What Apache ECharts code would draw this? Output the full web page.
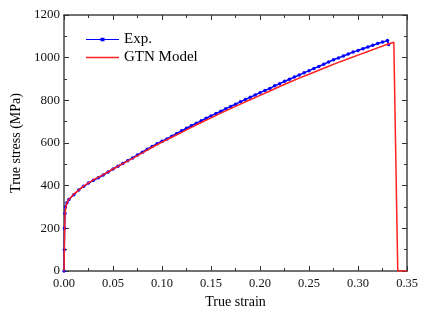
<!DOCTYPE html>
<html>
<head>
<meta charset="utf-8">
<script src="https://cdn.jsdelivr.net/npm/echarts@6/dist/echarts.min.js"></script>
<style>
html, body { margin: 0; padding: 0; background: #fff; }
#chart { width: 421px; height: 314px; }
</style>
</head>
<body>
<div id="chart"></div>
<script>
var chart = echarts.init(document.getElementById('chart'));

// 实验曲线 (strain, stress)
var expStrain = [0, 0.0003, 0.0006, 0.001, 0.0015, 0.003, 0.005, 0.010, 0.015, 0.020, 0.025, 0.030, 0.035, 0.040, 0.045,
    0.050, 0.055, 0.060, 0.065, 0.070, 0.075, 0.080, 0.085, 0.090, 0.095, 0.100, 0.105, 0.110, 0.115, 0.120,
    0.125, 0.130, 0.135, 0.140, 0.145, 0.150, 0.155, 0.160, 0.165, 0.170, 0.175, 0.180, 0.185, 0.190, 0.195,
    0.200, 0.205, 0.210, 0.215, 0.220, 0.225, 0.230, 0.235, 0.240, 0.245, 0.250, 0.255, 0.260, 0.265, 0.270,
    0.275, 0.280, 0.285, 0.290, 0.295, 0.300, 0.305, 0.310, 0.315, 0.320, 0.325, 0.330, 0.3312];
var expStress = [0, 100, 200, 270, 300, 320, 335, 358, 380, 397, 412, 425, 437, 450, 464,
    478, 491, 504, 517, 530, 544, 557, 571, 584, 597, 608, 619, 632, 645, 657,
    669, 681, 693, 704, 716, 727, 738, 749, 760, 771, 782, 793, 804, 814, 825,
    836, 846, 856, 868, 878, 889, 899, 909, 919, 929, 939, 949, 959, 969, 980,
    990, 999, 1008, 1017, 1026, 1034, 1042, 1050, 1058, 1066, 1073, 1080, 1062];

// GTN 模型曲线
var gtnStrain = [0, 0.0005, 0.001, 0.002, 0.004, 0.010, 0.020, 0.030, 0.040, 0.050, 0.060, 0.070, 0.080, 0.090,
    0.100, 0.110, 0.120, 0.130, 0.140, 0.150, 0.160, 0.170, 0.180, 0.190, 0.200, 0.210, 0.220, 0.230,
    0.240, 0.250, 0.260, 0.270, 0.280, 0.290, 0.300, 0.310, 0.320, 0.330, 0.3365, 0.3372, 0.3405, 0.350];
var gtnStress = [0, 150, 260, 305, 330, 360, 398, 427, 452, 478, 503, 528, 554, 580,
    604, 627, 650, 673, 696, 718, 740, 761, 782, 803, 823, 844, 865, 885,
    904, 922, 941, 960, 978, 995, 1012, 1029, 1046, 1063, 1072, 1072, 0, 0];

function zip(a, b) {
    var res = [];
    for (var i = 0; i < a.length; i++) res.push([a[i], b[i]]);
    return res;
}

var font = 'Liberation Serif';
var axisColor = '#444';

function baseAxis(extra) {
    var ax = {
        axisLine: { show: true, onZero: false, lineStyle: { color: axisColor, width: 1.5 } },
        axisTick: { show: true, inside: true, length: 5, lineStyle: { color: '#333', width: 1 } },
        minorTick: { show: true, splitNumber: 2, length: 3, lineStyle: { color: '#333', width: 1 } },
        splitLine: { show: false },
        axisLabel: { show: false }
    };
    for (var k in extra) ax[k] = extra[k];
    return ax;
}

// 图例图标：线段 + 小点
var iconExp = 'path://M0,4.4L33,4.4L33,5.6L0,5.6Z M14.5,3.2L18.5,3.2L18.5,6.8L14.5,6.8Z';
var iconGtn = 'path://M0,4.3L33,4.3L33,5.7L0,5.7Z';

var option = {
    animation: false,
    backgroundColor: '#fff',
    grid: { left: 64, right: 11, top: 15, bottom: 39 },
    legend: {
        orient: 'vertical',
        left: 81,
        top: 27,
        itemWidth: 33,
        itemHeight: 10,
        itemGap: 3,
        textStyle: { fontFamily: font, fontSize: 15, color: '#000' },
        data: [
            { name: 'Exp.', icon: iconExp, itemStyle: { color: '#0000ff' } },
            { name: 'GTN Model', icon: iconGtn, itemStyle: { color: '#ff2020' } }
        ]
    },
    xAxis: [
        baseAxis({
            type: 'value', min: 0, max: 0.35, interval: 0.05, position: 'bottom',
            name: 'True strain', nameLocation: 'middle', nameGap: 24,
            nameTextStyle: { fontFamily: font, fontSize: 14, color: '#000' },
            axisLabel: {
                show: true, margin: 6, fontFamily: font, fontSize: 12.5, color: '#111',
                formatter: function (v) { return v.toFixed(2); }
            }
        }),
        baseAxis({ type: 'value', min: 0, max: 0.35, interval: 0.05, position: 'top' })
    ],
    yAxis: [
        baseAxis({
            type: 'value', min: 0, max: 1200, interval: 200, position: 'left',
            name: 'True stress (MPa)', nameLocation: 'middle', nameGap: 36,
            nameTextStyle: { fontFamily: font, fontSize: 14, color: '#000' },
            axisLabel: {
                show: true, margin: 4, fontFamily: font, fontSize: 13, color: '#111',
                formatter: function (v) { return String(v); }
            }
        }),
        baseAxis({ type: 'value', min: 0, max: 1200, interval: 200, position: 'right' })
    ],
    series: [
        {
            name: 'Exp.',
            type: 'line',
            data: zip(expStrain, expStress),
            symbol: 'circle',
            symbolSize: 3.5,
            showAllSymbol: true,
            lineStyle: { color: '#0000ff', width: 1.5 },
            itemStyle: { color: '#0000ff' },
            z: 3
        },
        {
            name: 'GTN Model',
            type: 'line',
            data: zip(gtnStrain, gtnStress),
            symbol: 'none',
            lineStyle: { color: '#ff2020', width: 1.5 },
            itemStyle: { color: '#ff2020' },
            z: 4
        }
    ]
};

chart.setOption(option);
</script>
</body>
</html>
